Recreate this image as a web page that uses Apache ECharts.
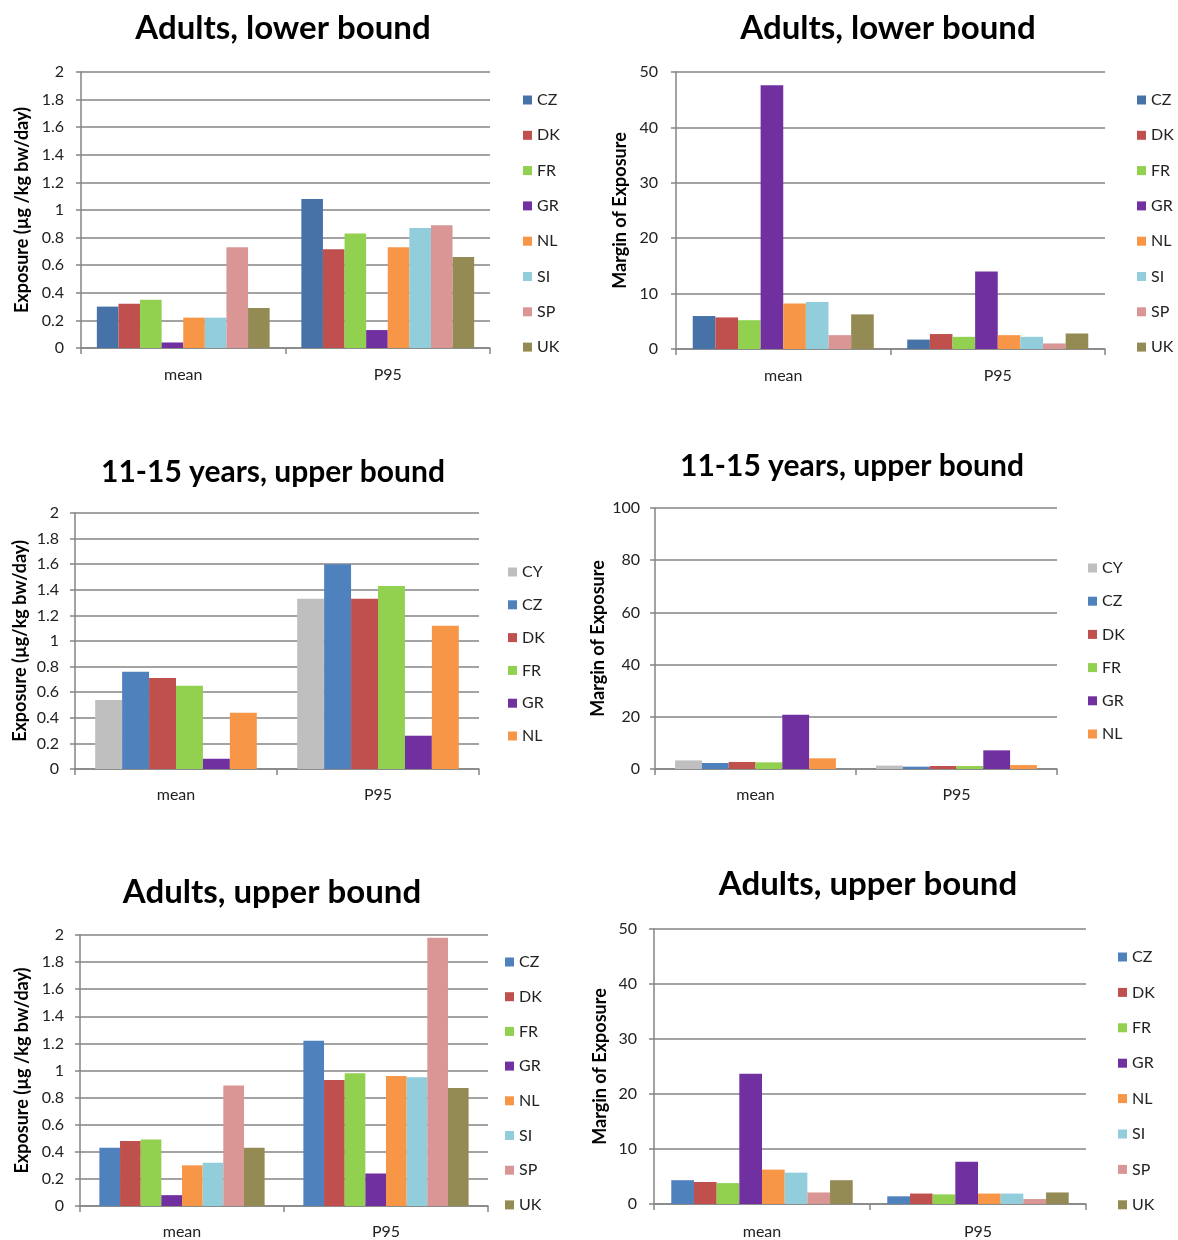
<!DOCTYPE html>
<html>
<head>
<meta charset="utf-8">
<title>Exposure and Margin of Exposure</title>
<script src="https://cdn.jsdelivr.net/npm/echarts@6/dist/echarts.min.js"></script>
<style>
  html, body { margin: 0; padding: 0; background: #ffffff; }
  #chart { width: 1178px; height: 1240px; }
</style>
</head>
<body>
<div id="chart"></div>
<script>
// ---- data ----
const categories = ['mean', 'P95'];
const adultCountries = ['CZ', 'DK', 'FR', 'GR', 'NL', 'SI', 'SP', 'UK'];
const teenCountries = ['CY', 'CZ', 'DK', 'FR', 'GR', 'NL'];

// Adults, lower bound - exposure (µg/kg bw/day), one value per country
const adultsLowerExpMean = [0.30, 0.32, 0.35, 0.04, 0.22, 0.22, 0.73, 0.29];
const adultsLowerExpP95  = [1.08, 0.715, 0.83, 0.13, 0.73, 0.87, 0.89, 0.66];
// Adults, lower bound - margin of exposure
const adultsLowerMoeMean = [5.95, 5.7, 5.2, 47.6, 8.2, 8.5, 2.5, 6.25];
const adultsLowerMoeP95  = [1.7, 2.7, 2.2, 14.0, 2.5, 2.2, 1.0, 2.8];

// 11-15 years, upper bound - exposure
const teenUpperExpMean = [0.54, 0.76, 0.71, 0.65, 0.08, 0.44];
const teenUpperExpP95  = [1.33, 1.60, 1.33, 1.43, 0.26, 1.12];
// 11-15 years, upper bound - margin of exposure
const teenUpperMoeMean = [3.3, 2.3, 2.7, 2.55, 20.8, 4.1];
const teenUpperMoeP95  = [1.3, 0.9, 1.15, 1.15, 7.15, 1.5];

// Adults, upper bound - exposure
const adultsUpperExpMean = [0.43, 0.48, 0.49, 0.08, 0.30, 0.32, 0.89, 0.43];
const adultsUpperExpP95  = [1.22, 0.93, 0.98, 0.24, 0.96, 0.95, 1.98, 0.87];
// Adults, upper bound - margin of exposure
const adultsUpperMoeMean = [4.33, 4.0, 3.8, 23.7, 6.25, 5.7, 2.1, 4.33];
const adultsUpperMoeP95  = [1.4, 1.9, 1.75, 7.7, 1.9, 1.9, 0.9, 2.1];

// ---- styling ----
const FONT = 'Lato, "Open Sans", sans-serif';
const AXIS_GREY = '#858585';
const countryColors = {
  CY: '#BFBFBF', CZ: '#4F81BD', DK: '#C0504D', FR: '#92D050', GR: '#7030A0',
  NL: '#F79646', SI: '#92CDDC', SP: '#D99694', UK: '#948A54'
};
const darkCZ = '#4672A8';

// one panel = title + grid + axes + legend + bar series
const panels = [
  { title: 'Adults, lower bound', titleX: 283, titleY: 28, titleSize: 33,
    grid: { left: 81, top: 72, width: 409, height: 276 },
    yName: 'Exposure (µg /kg bw/day)', nameGap: 50, max: 2, interval: 0.2, labelMargin: 17,
    countries: adultCountries, mean: adultsLowerExpMean, p95: adultsLowerExpP95,
    gap: '15.5%', czColor: darkCZ, catMargin: 19,
    legend: { left: 523, first: 100, step: 35.3 } },
  { title: 'Adults, lower bound', titleX: 888, titleY: 28, titleSize: 33,
    grid: { left: 676, top: 72, width: 429, height: 277 },
    yName: 'Margin of Exposure', nameGap: 47, max: 50, interval: 10, labelMargin: 18,
    countries: adultCountries, mean: adultsLowerMoeMean, p95: adultsLowerMoeP95,
    gap: '15.6%', czColor: darkCZ, catMargin: 19,
    legend: { left: 1137, first: 100, step: 35.3 } },
  { title: '11-15 years, upper bound', titleX: 273, titleY: 472, titleSize: 30,
    grid: { left: 75, top: 513, width: 404, height: 256 },
    yName: 'Exposure (µg/kg bw/day)', nameGap: 46, max: 2, interval: 0.2, labelMargin: 16,
    countries: teenCountries, mean: teenUpperExpMean, p95: teenUpperExpP95,
    gap: '20%', czColor: countryColors.CZ, catMargin: 18,
    legend: { left: 508, first: 572, step: 32.8 } },
  { title: '11-15 years, upper bound', titleX: 852, titleY: 466, titleSize: 30,
    grid: { left: 655, top: 508, width: 402, height: 261 },
    yName: 'Margin of Exposure', nameGap: 48, max: 100, interval: 20, labelMargin: 15,
    countries: teenCountries, mean: teenUpperMoeMean, p95: teenUpperMoeP95,
    gap: '20%', czColor: countryColors.CZ, catMargin: 18,
    legend: { left: 1088, first: 568, step: 33.2 } },
  { title: 'Adults, upper bound', titleX: 272, titleY: 892, titleSize: 33,
    grid: { left: 80, top: 935, width: 408, height: 271 },
    yName: 'Exposure (µg /kg bw/day)', nameGap: 49, max: 2, interval: 0.2, labelMargin: 16,
    countries: adultCountries, mean: adultsUpperExpMean, p95: adultsUpperExpP95,
    gap: '19%', czColor: countryColors.CZ, catMargin: 18,
    legend: { left: 505, first: 962, step: 34.7 } },
  { title: 'Adults, upper bound', titleX: 868, titleY: 884, titleSize: 33,
    grid: { left: 654, top: 929, width: 432, height: 277 },
    yName: 'Margin of Exposure', nameGap: 45, max: 50, interval: 10, labelMargin: 17,
    countries: adultCountries, mean: adultsUpperMoeMean, p95: adultsUpperMoeP95,
    gap: '16%', czColor: countryColors.CZ, catMargin: 20,
    legend: { left: 1118, first: 957, step: 35.4 } }
];

const LEGEND_FONT = 16;
const LEGEND_LINE = 16;

const option = {
  animation: false,
  backgroundColor: '#ffffff',
  textStyle: { fontFamily: FONT },
  grid: [], xAxis: [], yAxis: [], legend: [], series: [], graphic: []
};

panels.forEach((p, i) => {
  const colorOf = c => (c === 'CZ' ? p.czColor : countryColors[c]);

  option.graphic.push({
    type: 'text', x: p.titleX, y: p.titleY, silent: true,
    style: {
      text: p.title, fill: '#000000', align: 'center', verticalAlign: 'middle',
      font: 'bold ' + p.titleSize + 'px ' + FONT
    }
  });

  option.grid.push(Object.assign({ containLabel: false }, p.grid));

  option.xAxis.push({
    type: 'category', gridIndex: i, data: categories,
    axisLine: { lineStyle: { color: AXIS_GREY, width: 1.5 } },
    axisTick: { show: true, length: 6, lineStyle: { color: AXIS_GREY, width: 1.5 } },
    axisLabel: { fontSize: 16, color: '#222222', margin: p.catMargin, fontFamily: FONT },
    splitLine: { show: false }
  });

  option.yAxis.push({
    type: 'value', gridIndex: i, min: 0, max: p.max, interval: p.interval,
    name: p.yName, nameLocation: 'middle', nameRotate: 90, nameGap: p.nameGap,
    nameTextStyle: { fontSize: 18, fontWeight: 'bold', color: '#000000', fontFamily: FONT },
    axisLine: { show: true, lineStyle: { color: AXIS_GREY, width: 1.5 } },
    axisTick: { show: true, length: 5, lineStyle: { color: AXIS_GREY, width: 1.5 } },
    axisLabel: { fontSize: 16, color: '#222222', margin: p.labelMargin, fontFamily: FONT },
    splitLine: { show: true, lineStyle: { color: AXIS_GREY, width: 1.5 } }
  });

  option.legend.push({
    orient: 'vertical', left: p.legend.left, top: p.legend.first - LEGEND_LINE / 2,
    padding: 0,
    itemWidth: 9, itemHeight: 9, itemGap: p.legend.step - LEGEND_LINE,
    icon: 'rect', selectedMode: false,
    textStyle: { fontSize: LEGEND_FONT, lineHeight: LEGEND_LINE, color: '#222222', fontFamily: FONT },
    data: p.countries.map(c => ({ name: c, itemStyle: { color: colorOf(c) } }))
  });

  p.countries.forEach((c, k) => {
    option.series.push({
      type: 'bar', name: c, xAxisIndex: i, yAxisIndex: i,
      data: [p.mean[k], p.p95[k]],
      barGap: '0%', barCategoryGap: p.gap,
      itemStyle: { color: colorOf(c) },
      emphasis: { disabled: true }
    });
  });
});

const chart = echarts.init(document.getElementById('chart'), null, { renderer: 'canvas' });
chart.setOption(option);
</script>
</body>
</html>
